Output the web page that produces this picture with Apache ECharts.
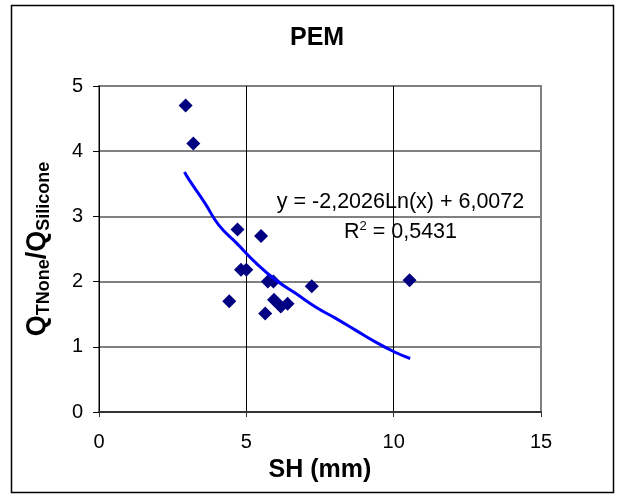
<!DOCTYPE html>
<html>
<head>
<meta charset="utf-8">
<script src="https://cdn.jsdelivr.net/npm/echarts@6/dist/echarts.min.js"></script>
<style>
  html, body { margin: 0; padding: 0; background: #fff; }
  #chart { width: 619px; height: 494px; }
</style>
</head>
<body>
<div id="chart"></div>
<script>
// measured points (SH in mm, Q ratio)
const shValues = [2.94, 3.2, 4.42, 4.7, 4.82, 5.0, 5.5, 5.64, 5.73, 5.92, 5.94, 6.17, 6.4, 7.22, 10.54]
const ratioValues = [4.7, 4.12, 1.7, 2.8, 2.18, 2.18, 2.7, 1.51, 2.0, 2.0, 1.72, 1.62, 1.66, 1.93, 2.02]

// log trend line
const trendX = [2.9, 3.06, 3.6, 4.06, 4.67, 5.34, 6.01, 6.67, 7.35, 8.02, 8.69, 9.36, 10.03, 10.56]
const trendY = [3.68, 3.56, 3.2, 2.87, 2.59, 2.28, 2.02, 1.82, 1.61, 1.44, 1.26, 1.08, 0.92, 0.82]

const xTicks = [0, 5, 10, 15]
const yTicks = [0, 1, 2, 3, 4, 5]

const titleText = 'PEM'
const xName = 'SH (mm)'
const equationText = 'y = -2,2026Ln(x) + 6,0072'
const rSquaredValue = '0,5431'

const font = "'Liberation Sans', Arial, sans-serif"

const chart = echarts.init(document.getElementById('chart'), null, { renderer: 'canvas' })

const option = {
  backgroundColor: '#fff',
  animation: false,
  title: {
    text: titleText,
    left: 285,
    top: 21,
    textStyle: { fontFamily: font, fontSize: 25, fontWeight: 'bold', color: '#000' },
  },
  grid: {
    left: 99,
    top: 86,
    width: 442,
    height: 326,
    show: true,
    borderColor: '#808080',
    borderWidth: 2,
    backgroundColor: '#fff',
  },
  xAxis: {
    type: 'value',
    min: xTicks[0],
    max: xTicks[xTicks.length - 1],
    interval: 5,
    name: xName,
    nameLocation: 'middle',
    nameGap: 46,
    nameTextStyle: { fontFamily: font, fontSize: 25, fontWeight: 'bold', color: '#000' },
    axisLine: { lineStyle: { color: '#333', width: 2 } },
    axisTick: { show: true, length: 5, lineStyle: { color: '#333' } },
    axisLabel: { fontFamily: font, fontSize: 20, color: '#000', margin: 20 },
    splitLine: { show: true, showMinLine: false, showMaxLine: false, lineStyle: { color: '#000', width: 1 } },
  },
  yAxis: {
    type: 'value',
    min: yTicks[0],
    max: yTicks[yTicks.length - 1],
    interval: 1,
    name: '{q|Q}{s|TNone}{q|/Q}{s|Silicone}',
    nameLocation: 'middle',
    nameRotate: 90,
    nameGap: 46,
    nameTextStyle: {
      rich: {
        q: { fontFamily: font, fontSize: 27, fontWeight: 'bold', color: '#000', lineHeight: 30, verticalAlign: 'middle' },
        s: { fontFamily: font, fontSize: 18, fontWeight: 'bold', color: '#000', lineHeight: 30, verticalAlign: 'bottom' },
      },
    },
    axisLine: { show: true, lineStyle: { color: '#000', width: 1 } },
    axisTick: { show: true, length: 6, lineStyle: { color: '#000' } },
    axisLabel: { fontFamily: font, fontSize: 20, color: '#000', margin: 16 },
    splitLine: { show: true, lineStyle: { color: '#808080', width: 2 } },
  },
  graphic: [
    {
      type: 'rect',
      shape: { x: 11.5, y: 5.5, width: 602, height: 487 },
      style: { fill: 'none', stroke: '#000', lineWidth: 1.5 },
      silent: true,
      z: 100,
    },
    {
      type: 'text',
      x: 400.5,
      y: 202,
      style: {
        text: equationText,
        fontFamily: font,
        fontSize: 21.5,
        fill: '#000',
        align: 'center',
        verticalAlign: 'middle',
      },
      z: 50,
    },
    {
      type: 'text',
      x: 400.5,
      y: 232,
      style: {
        text: '{a|R}{b|2}{a| = ' + rSquaredValue + '}',
        align: 'center',
        verticalAlign: 'middle',
        rich: {
          a: { fontFamily: font, fontSize: 21.5, fill: '#000', lineHeight: 24, verticalAlign: 'middle' },
          b: { fontFamily: font, fontSize: 13, fill: '#000', lineHeight: 24, verticalAlign: 'top' },
        },
      },
      z: 50,
    },
  ],
  series: [
    {
      name: 'points',
      type: 'scatter',
      symbol: 'diamond',
      symbolSize: 14,
      itemStyle: { color: '#000080', opacity: 1 },
      data: shValues.map((x, i) => [x, ratioValues[i]]),
      z: 3,
    },
    {
      name: 'trend',
      type: 'line',
      smooth: true,
      showSymbol: false,
      lineStyle: { color: '#0000ff', width: 3 },
      data: trendX.map((x, i) => [x, trendY[i]]),
      z: 4,
    },
  ],
}

option && chart.setOption(option)
</script>
</body>
</html>
